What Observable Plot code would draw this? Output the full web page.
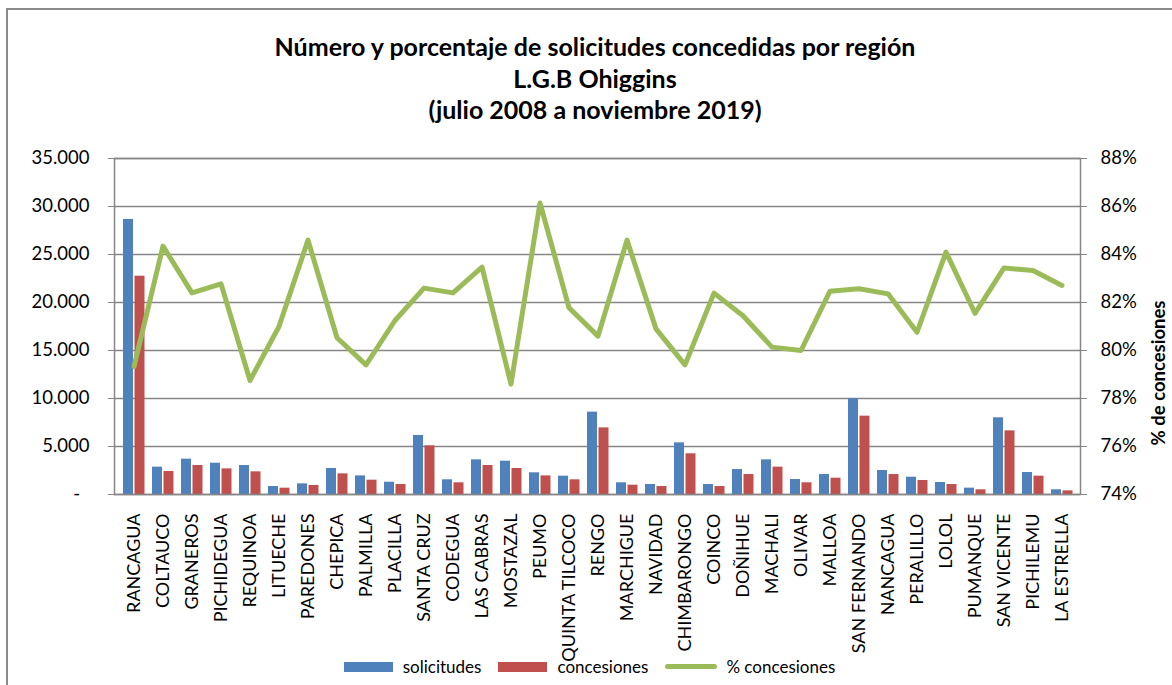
<!DOCTYPE html>
<html>
<head>
<meta charset="utf-8">
<script src="https://cdn.jsdelivr.net/npm/d3@7"></script>
<script src="https://cdn.jsdelivr.net/npm/@observablehq/plot@0.6"></script>
<style>
  html, body { margin: 0; padding: 0; background: #fff; }
  #wrap { position: relative; width: 1172px; height: 685px; overflow: hidden; font-family: Lato, sans-serif; }
  #border { position: absolute; left: 6px; top: 8px; right: -10px; bottom: -10px; border-top: 2px solid #8a8a8a; border-left: 2px solid #8a8a8a; }
  #title { position: absolute; left: 0; width: 1190px; top: 31px; text-align: center; font-weight: bold; font-size: 25px; line-height: 31.5px; color: #000; }
  #chart { position: absolute; left: 0; top: 140px; }
  #legend { position: absolute; left: 0; width: 1179px; top: 656px; display: flex; justify-content: center; align-items: center; font-size: 17px; color: #000; }
  .item { display: flex; align-items: center; margin: 0 8.5px; }
  .sw { width: 49px; height: 10px; margin-right: 10px; }
  .ln { width: 52px; height: 5px; border-radius: 3px; margin-right: 9px; }
</style>
</head>
<body>
<div id="wrap">
  <div id="border"></div>
  <div id="chart"></div>
  <div id="title">Número y porcentaje de solicitudes concedidas por región<br>L.G.B Ohiggins<br>(julio 2008 a noviembre 2019)</div>
  <div id="legend"></div>
</div>
<script>
const categories = ["RANCAGUA","COLTAUCO","GRANEROS","PICHIDEGUA","REQUINOA","LITUECHE","PAREDONES","CHEPICA","PALMILLA","PLACILLA","SANTA CRUZ","CODEGUA","LAS CABRAS","MOSTAZAL","PEUMO","QUINTA TILCOCO","RENGO","MARCHIGUE","NAVIDAD","CHIMBARONGO","COINCO","DOÑIHUE","MACHALI","OLIVAR","MALLOA","SAN FERNANDO","NANCAGUA","PERALILLO","LOLOL","PUMANQUE","SAN VICENTE","PICHILEMU","LA ESTRELLA"];
const solicitudes = [28650,2850,3680,3260,3020,830,1110,2710,1940,1280,6150,1530,3610,3470,2260,1910,8580,1220,1040,5380,1040,2600,3610,1560,2080,9970,2500,1800,1250,660,7990,2290,490];
const concesiones = [22740,2400,3020,2670,2360,660,940,2150,1490,1040,5070,1220,3020,2710,1940,1530,6940,970,830,4240,830,2080,2850,1220,1700,8160,2080,1460,1040,490,6630,1910,380];
const pctConcesiones = [79.33,84.35,82.4,82.78,78.75,81.0,84.6,80.53,79.4,81.25,82.6,82.4,83.47,78.6,86.15,81.78,80.6,84.6,80.9,79.4,82.39,81.45,80.14,80.0,82.47,82.57,82.36,80.76,84.1,81.55,83.44,83.33,82.71];
const leftTicks = [0,5000,10000,15000,20000,25000,30000,35000];
const rightTickLabels = ["74%","76%","78%","80%","82%","84%","86%","88%"];
const legendItems = ["solicitudes","concesiones","% concesiones"];

const colors = {sol: "#4F81BD", con: "#C0504D", pct: "#9BBB59"};
const rows = categories.map((c, i) => ({cat: c, sol: solicitudes[i], con: concesiones[i], pct: pctConcesiones[i]}));
// secondary axis: 74%..88% mapped onto 0..35000
const toY = p => (p - 74) / 14 * 35000;
const fmtLeft = d => d === 0 ? "-\u00a0\u00a0" : d3.format(",")(d).replace(/,/g, ".");

const chart = Plot.plot({
  width: 1172,
  height: 545,
  marginTop: 18,
  marginBottom: 191,
  marginLeft: 114,
  marginRight: 92,
  x: {domain: categories, padding: 0, label: null},
  y: {domain: [0, 35000], label: null},
  style: {fontFamily: "Lato, sans-serif", fontSize: "18px", color: "#000", background: "transparent", overflow: "visible"},
  marks: [
    Plot.gridY(leftTicks, {stroke: "#868686", strokeOpacity: 1, strokeWidth: 1.5}),
    Plot.barY(rows, {x: "cat", y: "sol", fill: colors.sol, insetLeft: 4, insetRight: 15}),
    Plot.barY(rows, {x: "cat", y: "con", fill: colors.con, insetLeft: 15.5, insetRight: 3.5}),
    Plot.frame({stroke: "#868686", strokeWidth: 1.5}),
    Plot.lineY(rows, {x: "cat", y: d => toY(d.pct), stroke: colors.pct, strokeWidth: 5, strokeLinejoin: "round", strokeLinecap: "round"}),
    Plot.axisY({anchor: "left", ticks: leftTicks, tickSize: 6, tickPadding: 19, tickFormat: fmtLeft, stroke: "#868686", fill: "#000", fontSize: 18.5, label: null}),
    Plot.axisY({anchor: "right", ticks: leftTicks, tickSize: 6, tickPadding: 14, tickFormat: (d, i) => rightTickLabels[i], stroke: "#868686", fill: "#000", fontSize: 18.5, label: null}),
    Plot.axisX({anchor: "bottom", tickRotate: -90, tickSize: 0, tickPadding: 19, fill: "#000", fontSize: 18, label: null}),
    Plot.text(["% de concesiones"], {frameAnchor: "right", dx: 79, dy: -26, rotate: -90, fontWeight: "bold", fontSize: 18.5, fill: "#000"})
  ]
});
document.getElementById("chart").appendChild(chart);

const legend = document.getElementById("legend");
legendItems.forEach((t, i) => {
  const it = document.createElement("div");
  it.className = "item";
  const sw = document.createElement("div");
  sw.className = i === 2 ? "ln" : "sw";
  sw.style.background = [colors.sol, colors.con, colors.pct][i];
  const tx = document.createElement("span");
  tx.textContent = t;
  it.appendChild(sw); it.appendChild(tx);
  legend.appendChild(it);
});
</script>
</body>
</html>
